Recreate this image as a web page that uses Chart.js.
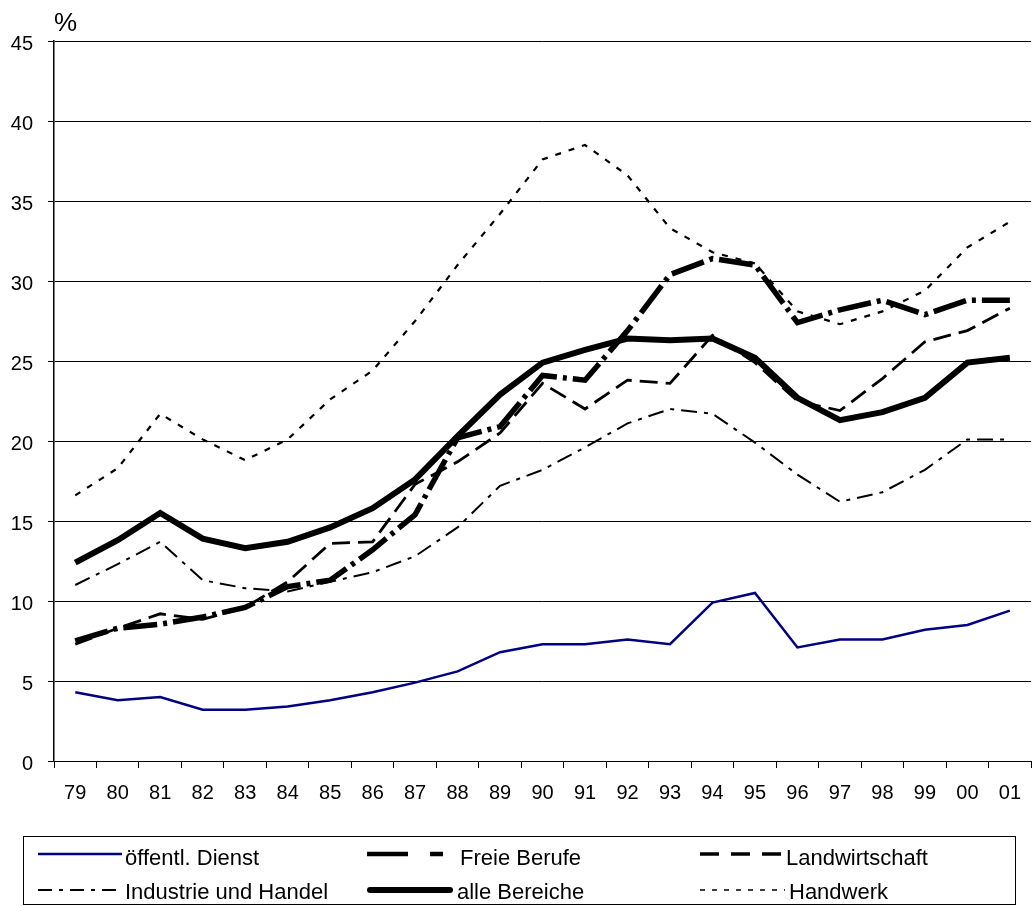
<!DOCTYPE html>
<html>
<head>
<meta charset="utf-8">
<script src="https://cdn.jsdelivr.net/npm/chart.js@4.4.7/dist/chart.umd.min.js"></script>
<style>
  html, body { margin: 0; padding: 0; background: #fff; width: 1032px; height: 906px; overflow: hidden; }
  #wrap { position: absolute; left: 0; top: 0; width: 1034px; height: 906px; }
  #legend-box { position: absolute; left: 23px; top: 836px; width: 993px; height: 69px; border: 1px solid #000; box-sizing: border-box; }
  .lg-text { position: absolute; font-family: 'Liberation Sans', Arial, sans-serif; font-size: 22px; line-height: 22px; color: #000; white-space: nowrap; }
  .lg-line { position: absolute; overflow: visible; }
</style>
</head>
<body>
<div id="wrap"><canvas id="chart"></canvas></div>
<div id="legend-box"></div>
<div id="legend"></div>
<script>
// x categories (years) and y ticks
const years = ['79', '80', '81', '82', '83', '84', '85', '86', '87', '88', '89', '90',
  '91', '92', '93', '94', '95', '96', '97', '98', '99', '00', '01'];
const yTicks = [0, 5, 10, 15, 20, 25, 30, 35, 40, 45];

// series values (%)
const oeffentlDienst = [4.3, 3.8, 4.0, 3.2, 3.2, 3.4, 3.8, 4.3, 4.9, 5.6, 6.8, 7.3,
  7.3, 7.6, 7.3, 9.9, 10.5, 7.1, 7.6, 7.6, 8.2, 8.5, 9.4];
const freieBerufe = [7.5, 8.3, 8.55, 9.0, 9.6, 10.9, 11.3, 13.2, 15.4, 20.2, 20.9, 24.1,
  23.8, 26.9, 30.4, 31.4, 31.0, 27.4, 28.2, 28.8, 27.9, 28.8, 28.8];
const landwirtschaft = [7.3, 8.3, 9.2, 8.85, 9.6, 11.2, 13.6, 13.7, 17.3, 18.7, 20.5, 23.6,
  22.0, 23.8, 23.6, 26.6, 24.9, 22.5, 21.9, 23.9, 26.2, 26.9, 28.3];
const industrieHandel = [11.0, 12.3, 13.7, 11.3, 10.8, 10.6, 11.2, 11.8, 12.8, 14.6, 17.2, 18.2,
  19.6, 21.1, 22.0, 21.7, 19.9, 17.9, 16.2, 16.8, 18.2, 20.1, 20.1];
const alleBereiche = [12.4, 13.8, 15.5, 13.9, 13.3, 13.7, 14.6, 15.8, 17.6, 20.3, 22.9, 24.9,
  25.7, 26.4, 26.3, 26.4, 25.2, 22.7, 21.3, 21.8, 22.7, 24.9, 25.2];
const handwerk = [16.6, 18.3, 21.7, 20.1, 18.8, 20.1, 22.6, 24.4, 27.5, 31.0, 34.2, 37.6,
  38.5, 36.6, 33.3, 31.8, 31.1, 28.1, 27.3, 28.1, 29.4, 32.1, 33.7];

const FONT = "'Liberation Sans', Arial, sans-serif";

// line styles: chart and legend sample
const SERIES = [
  { label: 'alle Bereiche', data: alleBereiche, color: '#000', width: 6, dash: [],
    lg: { x: 370, x2: 450, row: 1, textX: 457, width: 6, dash: '', cap: 'round' } },
  { label: 'Freie Berufe', data: freieBerufe, color: '#000', width: 5.5, dash: [34, 6, 4, 6],
    lg: { x: 367, x2: 453, row: 0, textX: 460, width: 4.5, dash: '41 22 13 100', cap: 'butt' } },
  { label: 'Landwirtschaft', data: landwirtschaft, color: '#000', width: 2.8, dash: [18, 8],
    lg: { x: 700, x2: 782, row: 0, textX: 786, width: 3.5, dash: '19 12', cap: 'butt' } },
  { label: 'Industrie und Handel', data: industrieHandel, color: '#000', width: 2, dash: [16, 7, 4, 7],
    lg: { x: 38, x2: 122, row: 1, textX: 125, width: 2, dash: '14 7 4 7', cap: 'butt' } },
  { label: 'Handwerk', data: handwerk, color: '#000', width: 2.2, dash: [6, 8],
    lg: { x: 700, x2: 785, row: 1, textX: 789, width: 1.6, dash: '5 7', cap: 'butt' } },
  { label: 'öffentl. Dienst', data: oeffentlDienst, color: '#000080', width: 2.5, dash: [],
    lg: { x: 38, x2: 122, row: 0, textX: 125, width: 2.5, dash: '', cap: 'butt' } },
];

const ROW_LINE_Y = [854, 890];
const ROW_TEXT_TOP = [847, 881];

// ---- HTML legend ----
function buildLegend() {
  const host = document.getElementById('legend');
  for (const s of SERIES) {
    const l = s.lg;
    const w = l.x2 - l.x;
    const svg = document.createElementNS('http://www.w3.org/2000/svg', 'svg');
    svg.setAttribute('class', 'lg-line');
    svg.setAttribute('width', w);
    svg.setAttribute('height', 10);
    svg.style.left = l.x + 'px';
    svg.style.top = (ROW_LINE_Y[l.row] - 5) + 'px';
    const line = document.createElementNS('http://www.w3.org/2000/svg', 'line');
    line.setAttribute('x1', 0);
    line.setAttribute('x2', w);
    line.setAttribute('y1', 5);
    line.setAttribute('y2', 5);
    line.setAttribute('stroke', s.color);
    line.setAttribute('stroke-width', l.width);
    line.setAttribute('stroke-linecap', l.cap);
    if (l.dash) line.setAttribute('stroke-dasharray', l.dash);
    svg.appendChild(line);
    host.appendChild(svg);

    const t = document.createElement('div');
    t.className = 'lg-text';
    t.style.left = l.textX + 'px';
    t.style.top = ROW_TEXT_TOP[l.row] + 'px';
    t.textContent = s.label;
    host.appendChild(t);
  }
}

// "%" unit label above the y axis (clipped at the bottom like the original)
const percentLabel = {
  id: 'percentLabel',
  afterDraw(chart) {
    const c = chart.ctx;
    c.save();
    c.beginPath();
    c.rect(0, 0, 200, 31);
    c.clip();
    c.font = '26px ' + FONT;
    c.fillStyle = '#000';
    c.textBaseline = 'alphabetic';
    c.fillText('%', 54, 31);
    c.restore();
  },
};

Chart.defaults.font.family = FONT;
Chart.defaults.color = '#000';

new Chart(document.getElementById('chart'), {
  type: 'line',
  data: {
    labels: years,
    datasets: SERIES.map((s) => ({
      label: s.label,
      data: s.data,
      borderColor: s.color,
      backgroundColor: s.color,
      borderWidth: s.width,
      borderDash: s.dash,
      borderCapStyle: 'butt',
      borderJoinStyle: 'miter',
      pointRadius: 0,
      tension: 0,
      fill: false,
    })),
  },
  options: {
    responsive: true,
    maintainAspectRatio: false,
    animation: false,
    devicePixelRatio: 1,
    layout: { padding: { left: 0, right: 0, top: 41, bottom: 100 } },
    plugins: { legend: { display: false }, tooltip: { enabled: false } },
    scales: {
      x: {
        offset: true,
        grid: { offset: true, drawOnChartArea: false, drawTicks: true, tickLength: 7, color: '#000', lineWidth: 1 },
        border: { color: '#000', width: 1 },
        ticks: { color: '#000', font: { size: 20 }, padding: 13, maxRotation: 0, autoSkip: false },
        afterFit: (s) => { s.height = 45; },
      },
      y: {
        min: 0,
        max: 45,
        afterBuildTicks: (s) => { s.ticks = yTicks.map((v) => ({ value: v })); },
        grid: { color: '#000', lineWidth: 1, tickLength: 6 },
        border: { color: '#000', width: 1.5 },
        ticks: { color: '#000', font: { size: 20 }, padding: 15, labelOffset: 3 },
        afterFit: (s) => { s.width = 54; },
      },
    },
  },
  plugins: [percentLabel],
});

buildLegend();
</script>
</body>
</html>
